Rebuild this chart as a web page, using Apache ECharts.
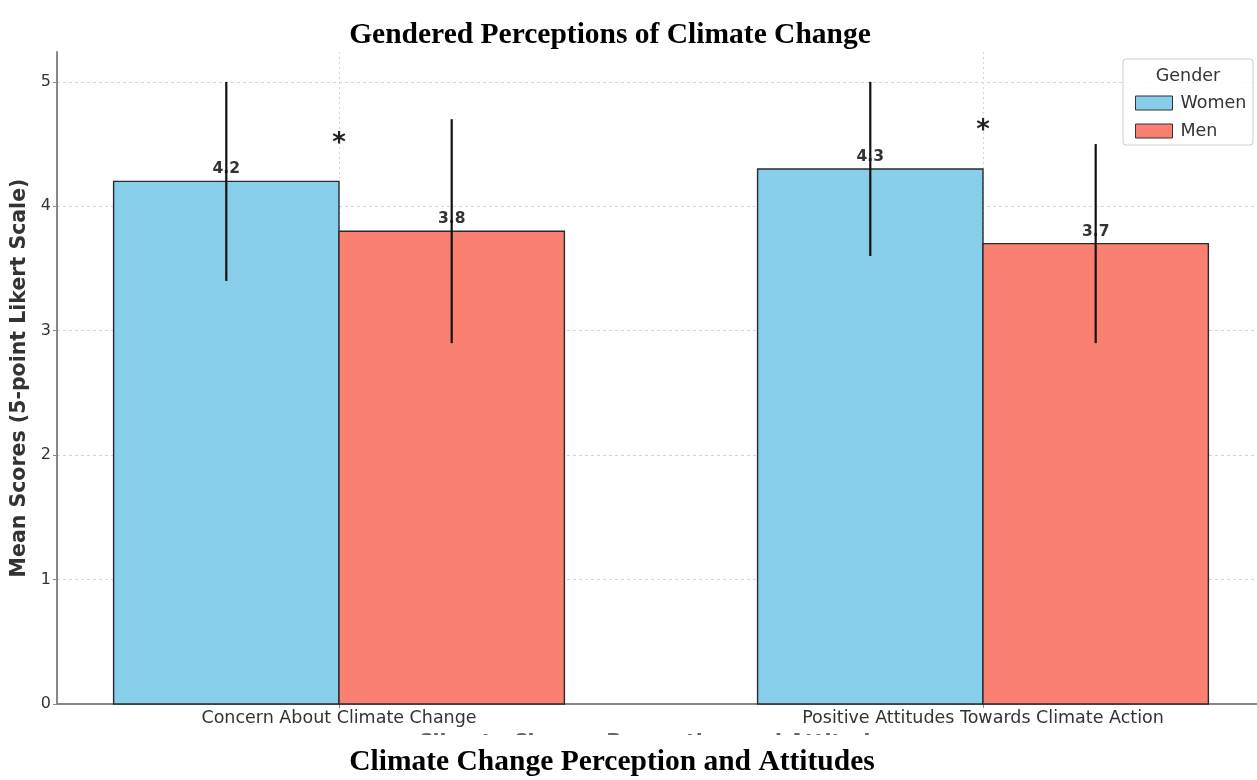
<!DOCTYPE html>
<html>
<head>
<meta charset="utf-8">
<script src="https://cdn.jsdelivr.net/npm/echarts@6/dist/echarts.min.js"></script>
<style>html,body{margin:0;padding:0;background:#fff}#c{width:1257px;height:780px}</style>
</head>
<body>
<div id="c"></div>
<script>
const categories = ['Concern About Climate Change', 'Positive Attitudes Towards Climate Action'];
const womenMeans = [4.2, 4.3];
const womenErr = [0.8, 0.7];
const menMeans = [3.8, 3.7];
const menErr = [0.9, 0.8];
const significance = ['*', '*'];
const yTicks = [0, 1, 2, 3, 4, 5];

const BAR_W = 0.35;
const chart = echarts.init(document.getElementById('c'));

function barRender(offset, color) {
  return function (params, api) {
    const xi = api.value(0), v = api.value(1), e = api.value(2);
    const x = xi + offset;
    const w = api.size([BAR_W, 0])[0];
    const top = api.coord([x, v]);
    const base = api.coord([x, 0]);
    const eTop = api.coord([x, v + e]);
    const eBot = api.coord([x, v - e]);
    return {
      type: 'group',
      children: [
        {type: 'rect', shape: {x: top[0] - w / 2, y: top[1], width: w, height: base[1] - top[1]},
         style: {fill: color, stroke: '#2a2a2a', lineWidth: 1.4}},
        {type: 'text', x: top[0], y: top[1] - 12,
         style: {text: v.toFixed(1), fill: '#333', font: 'bold 15.5px "DejaVu Sans"', align: 'center', verticalAlign: 'middle'}},
        {type: 'line', shape: {x1: eTop[0], y1: eTop[1], x2: eBot[0], y2: eBot[1]},
         style: {stroke: '#111', lineWidth: 2.2}}
      ]
    };
  };
}

const sigData = categories.map((c, i) => [i, Math.max(womenMeans[i], menMeans[i]) + 0.3, significance[i]]);

const option = {
  animation: false,
  title: [
    {text: 'Gendered Perceptions of Climate Change', left: 605, top: 30, textAlign: 'center', textVerticalAlign: 'middle',
     textStyle: {fontFamily: 'Liberation Serif', fontWeight: 'bold', fontSize: 29.5, color: '#000'}, z: 100},
    {text: 'Climate Change Perception and Attitudes', left: 607, top: 757, textAlign: 'center', textVerticalAlign: 'middle',
     textStyle: {fontFamily: 'Liberation Serif', fontWeight: 'bold', fontSize: 29.5, color: '#000'}, z: 100}
  ],
  grid: {left: 57, right: 0, top: 52, bottom: 76, containLabel: false},
  xAxis: {
    type: 'value', min: -0.4379, max: 1.4255,
    name: 'Climate Change Perception and Attitudes', nameLocation: 'middle', nameGap: 29.5,
    nameTextStyle: {fontFamily: 'DejaVu Sans', fontWeight: 'bold', fontSize: 20.5, color: '#666', verticalAlign: 'top'},
    axisLine: {show: true, onZero: false, lineStyle: {color: '#888', width: 2}},
    axisTick: {show: true, customValues: [0, 1], length: 4, lineStyle: {color: '#888'}},
    axisLabel: {customValues: [0, 1], formatter: v => categories[Math.round(v)] || '', fontFamily: 'DejaVu Sans', fontSize: 17.5, color: '#333', margin: 5},
    splitLine: {show: true, lineStyle: {color: '#d4d4d4', type: [2, 3], width: 1}}
  },
  yAxis: {
    type: 'value', min: 0, max: 5.24,
    name: 'Mean Scores (5-point Likert Scale)', nameLocation: 'middle', nameGap: 23,
    nameTextStyle: {fontFamily: 'DejaVu Sans', fontWeight: 'bold', fontSize: 20.5, color: '#333'},
    axisLine: {show: true, onZero: false, lineStyle: {color: '#888', width: 2}},
    axisTick: {show: true, customValues: yTicks, length: 4, lineStyle: {color: '#888'}},
    axisLabel: {customValues: yTicks, fontFamily: 'DejaVu Sans', fontSize: 16, color: '#333', margin: 6},
    splitLine: {show: true, lineStyle: {color: '#d4d4d4', type: [3, 3], width: 1}}
  },
  legend: {
    data: ['Women', 'Men'], orient: 'vertical', left: 1130, top: 89, itemGap: 10,
    itemWidth: 37, itemHeight: 14, icon: 'rect',
    textStyle: {fontFamily: 'DejaVu Sans', fontSize: 17.5, color: '#333', padding: [0, 0, 0, 3]},
    itemStyle: {borderColor: '#333', borderWidth: 1}, z: 20
  },
  graphic: [
    {type: 'rect', z: 15, shape: {x: 1123, y: 59, width: 130, height: 86, r: 3},
     style: {fill: 'rgba(255,255,255,0.85)', stroke: '#ccc', lineWidth: 1}},
    {type: 'text', z: 16, x: 1188, y: 76,
     style: {text: 'Gender', fill: '#333', font: '17.5px "DejaVu Sans"', align: 'center', verticalAlign: 'middle'}},
    {type: 'rect', z: 50, shape: {x: 0, y: 735, width: 1257, height: 45}, style: {fill: '#fff'}}
  ],
  series: [
    {name: 'Women', type: 'custom', color: '#87CEEB', itemStyle: {color: '#87CEEB'},
     renderItem: barRender(-BAR_W / 2, '#87CEEB'), encode: {x: 0, y: 1},
     data: categories.map((c, i) => [i, womenMeans[i], womenErr[i]]), z: 3},
    {name: 'Men', type: 'custom', color: '#FA8072', itemStyle: {color: '#FA8072'},
     renderItem: barRender(BAR_W / 2, '#FA8072'), encode: {x: 0, y: 1},
     data: categories.map((c, i) => [i, menMeans[i], menErr[i]]), z: 3},
    {name: 'sig', type: 'custom', silent: true,
     renderItem: function (params, api) {
       const p = api.coord([api.value(0), api.value(1)]);
       return {type: 'text', x: p[0], y: p[1],
         style: {text: sigData[params.dataIndex][2], fill: '#222', font: 'bold 26px "DejaVu Sans"', align: 'center', verticalAlign: 'middle'}};
     },
     data: sigData.map(d => [d[0], d[1]]), z: 4}
  ]
};
chart.setOption(option);
</script>
</body>
</html>
